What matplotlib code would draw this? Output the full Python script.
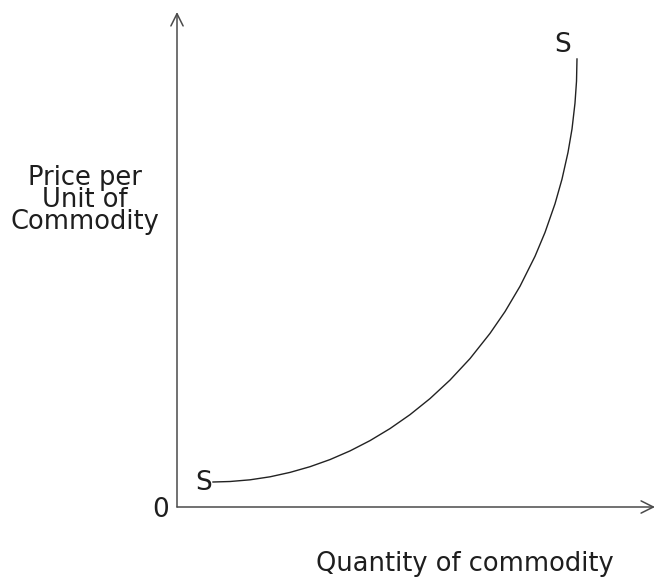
import matplotlib
matplotlib.use("Agg")
import matplotlib.pyplot as plt

# supply curve S-S, read as (quantity, price) in axis units 0-10
quantity = [0.753, 1.109, 1.527, 1.946, 2.364, 2.782, 3.201, 3.619, 4.038, 4.456, 4.874, 5.293, 5.711,
            6.130, 6.548, 6.862, 7.176, 7.490, 7.699, 7.908, 8.054, 8.180, 8.264, 8.326, 8.358, 8.368]
price = [0.505, 0.515, 0.549, 0.610, 0.699, 0.814, 0.958, 1.133, 1.341, 1.584, 1.865, 2.190, 2.564,
         2.998, 3.507, 3.947, 4.459, 5.065, 5.547, 6.125, 6.622, 7.164, 7.638, 8.158, 8.602, 9.051]

ylabel = "Price per\nUnit of\nCommodity"
xlabel = "Quantity of commodity"

plt.rcParams['font.family'] = ['DejaVu Sans']
fig = plt.figure(figsize=(6.62, 5.81), dpi=100)
ax = fig.add_axes([177 / 662, 74 / 581, 478 / 662, 495 / 581])
ax.set_xlim(0, 10)
ax.set_ylim(0, 10)
ax.axis('off')

axis_col = '#4a4a4a'
txt_col = '#1e1e1e'
arrow = dict(arrowstyle='->', color=axis_col, lw=1.1, mutation_scale=22, shrinkA=0, shrinkB=0)
ax.annotate('', xy=(0, 1), xytext=(0, 0), xycoords='axes fraction', arrowprops=arrow)
ax.annotate('', xy=(1, 0), xytext=(0, 0), xycoords='axes fraction', arrowprops=arrow)

ax.plot(quantity, price, color='#222222', lw=1.0, solid_joinstyle='round')

ax.text(0.565, 0.485, 'S', fontsize=19, ha='center', va='center', color=txt_col)
ax.text(8.075, 9.33, 'S', fontsize=19, ha='center', va='center', color=txt_col)
ax.text(-0.335, -0.06, '0', fontsize=19, ha='center', va='center', color=txt_col)

fig.text(85 / 662, 1 - 200 / 581, ylabel, fontsize=18.5, ha='center', va='center',
         linespacing=0.8, color=txt_col)
fig.text(465 / 662, 1 - 564 / 581, xlabel, fontsize=18.5, ha='center', va='center', color=txt_col)

fig.savefig('out.png', dpi=100, facecolor='white')
